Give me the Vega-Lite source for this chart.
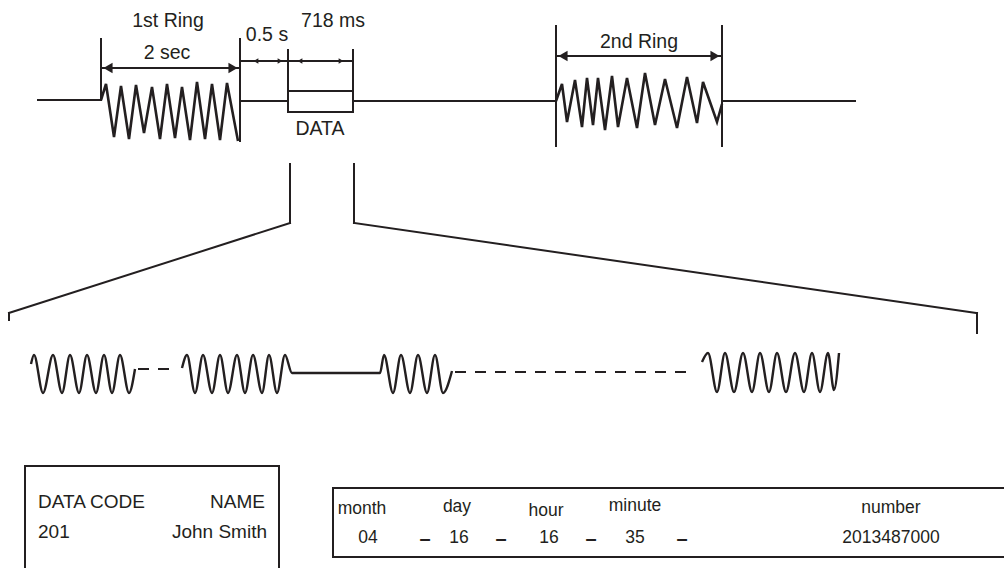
{
  "$schema": "https://vega.github.io/schema/vega-lite/v6.json",
  "width": 1004,
  "height": 568,
  "autosize": {"type": "none"},
  "padding": 0,
  "background": "white",
  "config": {"view": {"stroke": null}, "font": "Liberation Sans"},
  "datasets": {
    "segments": [
      {"id": "base1", "x": 38, "y": 100, "x2": 101, "y2": 100},
      {"id": "r1left", "x": 101, "y": 39, "x2": 101, "y2": 100},
      {"id": "r1right", "x": 240, "y": 39, "x2": 240, "y2": 141},
      {"id": "base2", "x": 240, "y": 101, "x2": 288, "y2": 101},
      {"id": "boxL", "x": 288, "y": 50, "x2": 288, "y2": 112},
      {"id": "boxR", "x": 353, "y": 50, "x2": 353, "y2": 112},
      {"id": "boxT", "x": 288, "y": 91, "x2": 353, "y2": 91},
      {"id": "boxB", "x": 288, "y": 112, "x2": 353, "y2": 112},
      {"id": "base3", "x": 353, "y": 101, "x2": 556, "y2": 101},
      {"id": "r2left", "x": 556, "y": 26, "x2": 556, "y2": 146},
      {"id": "r2right", "x": 722, "y": 26, "x2": 722, "y2": 146},
      {"id": "base4", "x": 722, "y": 101, "x2": 855, "y2": 101},
      {"id": "arr1", "x": 103, "y": 68, "x2": 238, "y2": 68},
      {"id": "arr05", "x": 241, "y": 61, "x2": 287, "y2": 61},
      {"id": "arr718", "x": 288, "y": 61, "x2": 352, "y2": 61},
      {"id": "arr2", "x": 558, "y": 56, "x2": 720, "y2": 56},
      {"id": "fL1", "x": 290, "y": 164, "x2": 290, "y2": 223},
      {"id": "fL2", "x": 290, "y": 223, "x2": 9, "y2": 313},
      {"id": "fL3", "x": 9, "y": 313, "x2": 9, "y2": 320},
      {"id": "fR1", "x": 354, "y": 164, "x2": 354, "y2": 223},
      {"id": "fR2", "x": 354, "y": 223, "x2": 977, "y2": 313},
      {"id": "fR3", "x": 977, "y": 313, "x2": 977, "y2": 333},
      {"id": "blT", "x": 25, "y": 466, "x2": 279, "y2": 466},
      {"id": "blL", "x": 25, "y": 466, "x2": 25, "y2": 570},
      {"id": "blR", "x": 279, "y": 466, "x2": 279, "y2": 570},
      {"id": "brT", "x": 333, "y": 488, "x2": 1004, "y2": 488},
      {"id": "brB", "x": 333, "y": 557, "x2": 1004, "y2": 557},
      {"id": "brL", "x": 333, "y": 488, "x2": 333, "y2": 557}
    ],
    "zigzag": [
      {"w": "r1", "o": 0, "x": 101, "y": 100},
      {"w": "r1", "o": 1, "x": 106, "y": 84},
      {"w": "r1", "o": 2, "x": 114, "y": 137},
      {"w": "r1", "o": 3, "x": 121, "y": 86},
      {"w": "r1", "o": 4, "x": 129, "y": 139},
      {"w": "r1", "o": 5, "x": 136, "y": 85},
      {"w": "r1", "o": 6, "x": 144, "y": 133},
      {"w": "r1", "o": 7, "x": 152, "y": 87},
      {"w": "r1", "o": 8, "x": 160, "y": 139},
      {"w": "r1", "o": 9, "x": 167, "y": 84},
      {"w": "r1", "o": 10, "x": 175, "y": 138},
      {"w": "r1", "o": 11, "x": 182, "y": 87},
      {"w": "r1", "o": 12, "x": 190, "y": 140},
      {"w": "r1", "o": 13, "x": 197, "y": 82},
      {"w": "r1", "o": 14, "x": 205, "y": 139},
      {"w": "r1", "o": 15, "x": 212, "y": 84},
      {"w": "r1", "o": 16, "x": 220, "y": 140},
      {"w": "r1", "o": 17, "x": 227, "y": 83},
      {"w": "r1", "o": 18, "x": 238, "y": 141},
      {"w": "r2", "o": 0, "x": 556, "y": 101},
      {"w": "r2", "o": 1, "x": 562, "y": 84},
      {"w": "r2", "o": 2, "x": 567, "y": 122},
      {"w": "r2", "o": 3, "x": 575, "y": 80},
      {"w": "r2", "o": 4, "x": 582, "y": 127},
      {"w": "r2", "o": 5, "x": 587, "y": 78},
      {"w": "r2", "o": 6, "x": 593, "y": 125},
      {"w": "r2", "o": 7, "x": 598, "y": 78},
      {"w": "r2", "o": 8, "x": 605, "y": 130},
      {"w": "r2", "o": 9, "x": 612, "y": 76},
      {"w": "r2", "o": 10, "x": 618, "y": 127},
      {"w": "r2", "o": 11, "x": 627, "y": 78},
      {"w": "r2", "o": 12, "x": 637, "y": 128},
      {"w": "r2", "o": 13, "x": 645, "y": 73},
      {"w": "r2", "o": 14, "x": 655, "y": 125},
      {"w": "r2", "o": 15, "x": 665, "y": 79},
      {"w": "r2", "o": 16, "x": 677, "y": 128},
      {"w": "r2", "o": 17, "x": 687, "y": 77},
      {"w": "r2", "o": 18, "x": 697, "y": 123},
      {"w": "r2", "o": 19, "x": 703, "y": 82},
      {"w": "r2", "o": 20, "x": 717, "y": 122},
      {"w": "r2", "o": 21, "x": 722, "y": 104}
    ],
    "waves": [
      {"w": "g1", "o": 0, "x": 31, "y": 364},
      {"w": "g1", "o": 1, "x": 34, "y": 355},
      {"w": "g1", "o": 2, "x": 43, "y": 393},
      {"w": "g1", "o": 3, "x": 53, "y": 355},
      {"w": "g1", "o": 4, "x": 62, "y": 393},
      {"w": "g1", "o": 5, "x": 70, "y": 355},
      {"w": "g1", "o": 6, "x": 79, "y": 393},
      {"w": "g1", "o": 7, "x": 87, "y": 355},
      {"w": "g1", "o": 8, "x": 96, "y": 393},
      {"w": "g1", "o": 9, "x": 104, "y": 355},
      {"w": "g1", "o": 10, "x": 112, "y": 393},
      {"w": "g1", "o": 11, "x": 120, "y": 355},
      {"w": "g1", "o": 12, "x": 129, "y": 393},
      {"w": "g1", "o": 13, "x": 135, "y": 369},
      {"w": "g2", "o": 0, "x": 182, "y": 368},
      {"w": "g2", "o": 1, "x": 187, "y": 355},
      {"w": "g2", "o": 2, "x": 195, "y": 393},
      {"w": "g2", "o": 3, "x": 203, "y": 355},
      {"w": "g2", "o": 4, "x": 212, "y": 393},
      {"w": "g2", "o": 5, "x": 220, "y": 355},
      {"w": "g2", "o": 6, "x": 228, "y": 393},
      {"w": "g2", "o": 7, "x": 237, "y": 355},
      {"w": "g2", "o": 8, "x": 245, "y": 393},
      {"w": "g2", "o": 9, "x": 253, "y": 355},
      {"w": "g2", "o": 10, "x": 262, "y": 393},
      {"w": "g2", "o": 11, "x": 269, "y": 355},
      {"w": "g2", "o": 12, "x": 277, "y": 393},
      {"w": "g2", "o": 13, "x": 285, "y": 355},
      {"w": "g2", "o": 14, "x": 292, "y": 373},
      {"w": "g2", "o": 15, "x": 380, "y": 373},
      {"w": "g2", "o": 16, "x": 384, "y": 355},
      {"w": "g2", "o": 17, "x": 393, "y": 393},
      {"w": "g2", "o": 18, "x": 401, "y": 355},
      {"w": "g2", "o": 19, "x": 410, "y": 393},
      {"w": "g2", "o": 20, "x": 418, "y": 355},
      {"w": "g2", "o": 21, "x": 427, "y": 393},
      {"w": "g2", "o": 22, "x": 435, "y": 355},
      {"w": "g2", "o": 23, "x": 443, "y": 393},
      {"w": "g2", "o": 24, "x": 452, "y": 371},
      {"w": "g4", "o": 0, "x": 702, "y": 362},
      {"w": "g4", "o": 1, "x": 708, "y": 353},
      {"w": "g4", "o": 2, "x": 717, "y": 392},
      {"w": "g4", "o": 3, "x": 725, "y": 353},
      {"w": "g4", "o": 4, "x": 734, "y": 392},
      {"w": "g4", "o": 5, "x": 743, "y": 353},
      {"w": "g4", "o": 6, "x": 752, "y": 392},
      {"w": "g4", "o": 7, "x": 760, "y": 353},
      {"w": "g4", "o": 8, "x": 769, "y": 392},
      {"w": "g4", "o": 9, "x": 777, "y": 353},
      {"w": "g4", "o": 10, "x": 786, "y": 392},
      {"w": "g4", "o": 11, "x": 795, "y": 353},
      {"w": "g4", "o": 12, "x": 804, "y": 392},
      {"w": "g4", "o": 13, "x": 812, "y": 353},
      {"w": "g4", "o": 14, "x": 820, "y": 392},
      {"w": "g4", "o": 15, "x": 828, "y": 353},
      {"w": "g4", "o": 16, "x": 834, "y": 390},
      {"w": "g4", "o": 17, "x": 839, "y": 353}
    ],
    "dashes": [
      {"id": "d1", "x": 138, "y": 369, "x2": 172, "y2": 369},
      {"id": "d2", "x": 455, "y": 372, "x2": 695, "y2": 372}
    ],
    "headsLeft": [
      {"id": "a1", "x": 108, "y": 68},
      {"id": "a2", "x": 563, "y": 56}
    ],
    "headsRight": [
      {"id": "a1", "x": 233, "y": 68},
      {"id": "a2", "x": 715, "y": 56}
    ],
    "smallLeft": [
      {"id": "s05", "x": 256, "y": 61},
      {"id": "s718", "x": 300, "y": 61}
    ],
    "smallRight": [
      {"id": "s05", "x": 280, "y": 61},
      {"id": "s718", "x": 341, "y": 61}
    ],
    "labelsTop": [
      {"t": "1st Ring", "x": 168, "y": 21},
      {"t": "2 sec", "x": 167, "y": 53},
      {"t": "0.5 s", "x": 267, "y": 35},
      {"t": "718 ms", "x": 333, "y": 21},
      {"t": "DATA", "x": 320, "y": 129},
      {"t": "2nd Ring", "x": 639, "y": 42}
    ],
    "labelsBL_left": [
      {"t": "DATA CODE", "x": 38, "y": 502},
      {"t": "201", "x": 38, "y": 532}
    ],
    "labelsBL_right": [
      {"t": "NAME", "x": 265, "y": 502},
      {"t": "John Smith", "x": 267, "y": 532}
    ],
    "labelsBR": [
      {"t": "month", "x": 362, "y": 509},
      {"t": "day", "x": 457, "y": 507},
      {"t": "hour", "x": 546, "y": 511},
      {"t": "minute", "x": 635, "y": 506},
      {"t": "number", "x": 891, "y": 508},
      {"t": "04", "x": 368, "y": 538},
      {"t": "16", "x": 459, "y": 538},
      {"t": "16", "x": 549, "y": 538},
      {"t": "35", "x": 635, "y": 538},
      {"t": "2013487000", "x": 891, "y": 538}
    ],
    "sepDashes": [
      {"t": "–", "x": 425, "y": 539},
      {"t": "–", "x": 501, "y": 539},
      {"t": "–", "x": 591, "y": 539},
      {"t": "–", "x": 682, "y": 539}
    ]
  },
  "encoding": {
    "x": {"field": "x", "type": "quantitative", "scale": {"domain": [0, 1004], "nice": false, "zero": false}, "axis": null},
    "y": {"field": "y", "type": "quantitative", "scale": {"domain": [568, 0], "nice": false, "zero": false}, "axis": null}
  },
  "layer": [
    {
      "data": {"name": "segments"},
      "mark": {"type": "rule", "stroke": "#231f20", "strokeWidth": 2, "strokeCap": "square"},
      "encoding": {"x2": {"field": "x2"}, "y2": {"field": "y2"}, "detail": {"field": "id"}}
    },
    {
      "data": {"name": "dashes"},
      "mark": {"type": "rule", "stroke": "#231f20", "strokeWidth": 2, "strokeDash": [11, 9]},
      "encoding": {"x2": {"field": "x2"}, "y2": {"field": "y2"}, "detail": {"field": "id"}}
    },
    {
      "data": {"name": "zigzag"},
      "mark": {"type": "line", "stroke": "#231f20", "strokeWidth": 2.6, "strokeJoin": "miter", "interpolate": "linear"},
      "encoding": {"detail": {"field": "w"}, "order": {"field": "o", "type": "quantitative"}}
    },
    {
      "data": {"name": "waves"},
      "mark": {"type": "line", "stroke": "#231f20", "strokeWidth": 2.4, "interpolate": "monotone"},
      "encoding": {"detail": {"field": "w"}, "order": {"field": "o", "type": "quantitative"}}
    },
    {
      "data": {"name": "headsLeft"},
      "mark": {"type": "point", "shape": "triangle-left", "filled": true, "color": "#231f20", "size": 110, "opacity": 1},
      "encoding": {"detail": {"field": "id"}}
    },
    {
      "data": {"name": "headsRight"},
      "mark": {"type": "point", "shape": "triangle-right", "filled": true, "color": "#231f20", "size": 110, "opacity": 1},
      "encoding": {"detail": {"field": "id"}}
    },
    {
      "data": {"name": "smallLeft"},
      "mark": {"type": "point", "shape": "triangle-left", "filled": true, "color": "#231f20", "size": 30, "opacity": 1},
      "encoding": {"detail": {"field": "id"}}
    },
    {
      "data": {"name": "smallRight"},
      "mark": {"type": "point", "shape": "triangle-right", "filled": true, "color": "#231f20", "size": 30, "opacity": 1},
      "encoding": {"detail": {"field": "id"}}
    },
    {
      "data": {"name": "labelsTop"},
      "mark": {"type": "text", "font": "Liberation Sans", "fontSize": 19.5, "color": "#231f20", "align": "center", "baseline": "middle"},
      "encoding": {"text": {"field": "t"}}
    },
    {
      "data": {"name": "labelsBL_left"},
      "mark": {"type": "text", "font": "Liberation Sans", "fontSize": 19, "color": "#231f20", "align": "left", "baseline": "middle"},
      "encoding": {"text": {"field": "t"}}
    },
    {
      "data": {"name": "labelsBL_right"},
      "mark": {"type": "text", "font": "Liberation Sans", "fontSize": 19, "color": "#231f20", "align": "right", "baseline": "middle"},
      "encoding": {"text": {"field": "t"}}
    },
    {
      "data": {"name": "labelsBR"},
      "mark": {"type": "text", "font": "Liberation Sans", "fontSize": 17.5, "color": "#231f20", "align": "center", "baseline": "middle"},
      "encoding": {"text": {"field": "t"}}
    },
    {
      "data": {"name": "sepDashes"},
      "mark": {"type": "text", "font": "Liberation Sans", "fontSize": 20, "fontWeight": "bold", "color": "#231f20", "align": "center", "baseline": "middle"},
      "encoding": {"text": {"field": "t"}}
    }
  ]
}
